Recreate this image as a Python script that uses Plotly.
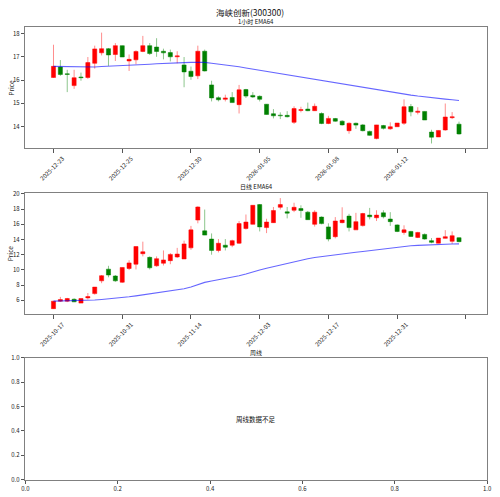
import plotly.graph_objects as go

# ---------------- data ----------------
title_main = "海峡创新(300300)"
title_h = "1小时 EMA64"
title_d = "日线 EMA64"
title_w = "周线"
weekly_msg = "周线数据不足"

h_ticks = [0, 10, 20, 30, 40, 50, 60]
h_ticktext = ["2025-12-23", "2025-12-25", "2025-12-30", "2026-01-05", "2026-01-08", "2026-01-12", ""]
d_ticks = [0, 10, 20, 30, 40, 50, 60]
d_ticktext = ["2025-10-17", "2025-10-31", "2025-11-14", "2025-12-03", "2025-12-17", "2025-12-31", ""]

h_open = [16.11, 16.56, 16.27, 15.76, 16.13, 16.11, 16.72, 17.17, 17.35, 17.10,
          17.48, 16.82, 16.87, 17.23, 17.48, 17.42, 17.24, 17.18, 17.00, 16.65,
          16.38, 16.18, 17.24, 15.79, 15.24, 15.17, 15.25, 14.94, 15.59, 15.34,
          15.30, 14.96, 14.55, 14.49, 14.48, 14.18, 14.69, 14.75, 14.68, 14.56,
          14.13, 14.34, 14.23, 13.82, 14.14, 14.07, 13.79, 13.48, 14.04, 13.90,
          13.99, 14.14, 14.86, 14.61, 14.65, 13.76, 13.55, 13.85, 14.38, 14.10]
h_close = [16.59, 16.24, 16.24, 16.10, 16.10, 16.75, 17.34, 17.35, 17.08, 17.48,
           16.99, 16.89, 17.23, 17.48, 17.14, 17.23, 17.17, 17.00, 17.04, 16.35,
           16.15, 17.24, 16.39, 15.23, 15.15, 15.23, 15.03, 15.58, 15.31, 15.27,
           15.17, 14.52, 14.46, 14.46, 14.42, 14.77, 14.73, 14.68, 14.87, 14.13,
           14.35, 14.23, 14.07, 14.14, 14.06, 13.82, 13.62, 14.07, 13.92, 13.99,
           14.15, 14.85, 14.63, 14.66, 14.28, 13.54, 13.83, 14.41, 14.42, 13.68]
h_high = [17.52, 16.86, 16.44, 16.44, 16.32, 16.99, 17.48, 18.04, 17.38, 17.59,
          17.48, 17.10, 17.28, 17.90, 17.59, 17.80, 17.35, 17.31, 17.24, 16.99,
          16.58, 17.48, 17.31, 15.97, 15.30, 15.37, 15.48, 15.79, 15.62, 15.48,
          15.34, 14.96, 14.75, 14.61, 14.66, 14.87, 14.85, 15.03, 14.99, 14.61,
          14.46, 14.37, 14.27, 14.18, 14.17, 14.11, 13.82, 14.07, 14.07, 14.18,
          14.15, 15.17, 14.97, 14.83, 14.65, 13.86, 13.83, 14.99, 14.62, 14.21]
h_low = [16.10, 16.18, 15.48, 15.62, 15.97, 16.05, 16.49, 17.06, 16.61, 16.82,
         16.99, 16.39, 16.68, 17.20, 17.08, 17.00, 16.89, 16.80, 16.72, 15.69,
         16.01, 16.04, 16.37, 15.08, 15.08, 15.08, 15.03, 14.56, 15.23, 15.23,
         15.08, 14.52, 14.35, 14.32, 14.39, 14.11, 14.61, 14.66, 14.68, 14.10,
         14.10, 14.21, 14.04, 13.69, 13.90, 13.79, 13.61, 13.45, 13.87, 13.86,
         13.99, 14.07, 14.44, 14.52, 14.28, 13.27, 13.55, 13.82, 14.32, 13.65]
h_ema = [16.59, 16.58, 16.57, 16.56, 16.55, 16.55, 16.56, 16.58, 16.59, 16.61,
         16.62, 16.63, 16.64, 16.66, 16.68, 16.70, 16.72, 16.73, 16.74, 16.75,
         16.76, 16.77, 16.76, 16.72, 16.69, 16.65, 16.61, 16.57, 16.52, 16.47,
         16.42, 16.37, 16.32, 16.27, 16.22, 16.17, 16.12, 16.07, 16.02, 15.97,
         15.92, 15.87, 15.82, 15.77, 15.72, 15.67, 15.62, 15.57, 15.52, 15.47,
         15.43, 15.39, 15.35, 15.31, 15.27, 15.24, 15.21, 15.18, 15.15, 15.12]

d_open = [4.89, 5.88, 5.88, 6.13, 5.62, 6.31, 6.87, 8.55, 10.09, 9.19,
          8.37, 10.18, 10.74, 12.12, 11.64, 10.53, 10.87, 11.21, 11.69, 11.43,
          12.89, 16.55, 15.13, 14.05, 12.55, 13.24, 13.24, 13.50, 15.43, 15.99,
          18.58, 15.56, 16.21, 18.23, 17.63, 17.84, 18.06, 17.59, 15.99, 16.94,
          15.65, 14.36, 16.21, 17.07, 15.26, 15.82, 17.20, 16.85, 17.50, 16.68,
          15.91, 14.92, 15.05, 14.27, 14.66, 13.84, 13.50, 14.14, 13.75, 14.23]
d_close = [5.88, 6.09, 6.22, 5.79, 6.22, 6.48, 7.73, 9.23, 9.32, 8.55,
           10.31, 10.91, 13.07, 12.38, 10.27, 11.47, 11.30, 12.03, 12.08, 13.41,
           15.26, 18.27, 14.57, 12.55, 13.50, 12.98, 13.84, 16.08, 16.29, 18.49,
           15.65, 16.29, 17.80, 18.58, 17.46, 18.23, 17.80, 16.60, 17.59, 16.08,
           14.05, 16.42, 16.55, 15.56, 16.34, 17.41, 16.98, 17.20, 16.98, 16.34,
           15.05, 15.26, 14.40, 14.92, 14.05, 13.62, 14.18, 14.36, 14.49, 13.71]
d_high = [5.88, 6.44, 6.31, 6.26, 6.22, 6.95, 7.73, 9.32, 10.53, 9.32,
          10.31, 11.26, 13.07, 13.71, 11.77, 11.77, 12.55, 12.20, 12.89, 13.84,
          15.78, 18.36, 17.93, 14.79, 14.05, 14.05, 13.97, 16.42, 17.28, 18.49,
          18.66, 16.72, 18.27, 19.44, 18.27, 18.83, 18.49, 17.75, 17.84, 17.03,
          16.12, 16.94, 18.23, 17.37, 17.50, 17.50, 18.15, 17.84, 17.84, 17.59,
          15.99, 15.86, 15.13, 15.00, 14.79, 14.18, 14.18, 15.22, 15.05, 14.27]
d_low = [4.89, 5.79, 5.75, 5.75, 5.62, 6.09, 6.74, 8.24, 9.02, 8.42,
         8.29, 9.97, 10.05, 11.77, 10.05, 10.40, 10.57, 10.74, 11.56, 11.43,
         12.63, 16.12, 14.57, 11.99, 12.29, 12.55, 12.98, 13.41, 15.30, 15.99,
         15.05, 14.83, 16.21, 17.93, 16.77, 17.59, 16.85, 16.60, 15.69, 15.99,
         13.75, 14.14, 16.12, 15.05, 15.26, 15.69, 16.64, 16.42, 16.77, 15.78,
         14.96, 14.62, 14.36, 14.18, 13.97, 13.50, 13.50, 14.14, 13.41, 13.62]
d_ema = [5.88, 5.89, 5.90, 5.92, 5.94, 5.98, 6.03, 6.10, 6.17, 6.25,
         6.34, 6.45, 6.57, 6.70, 6.83, 6.96, 7.09, 7.22, 7.36, 7.52,
         7.75, 8.10, 8.35, 8.52, 8.68, 8.82, 8.97, 9.22, 9.45, 9.75,
         9.98, 10.20, 10.42, 10.65, 10.86, 11.05, 11.25, 11.45, 11.62, 11.75,
         11.85, 11.96, 12.08, 12.20, 12.31, 12.42, 12.53, 12.65, 12.78, 12.90,
         13.02, 13.10, 13.17, 13.22, 13.27, 13.31, 13.34, 13.37, 13.39, 13.41]

w_ticks = [0.0, 0.2, 0.4, 0.6, 0.8, 1.0]

# ---------------- layout helpers ----------------
W, H = 500, 497
FONT = "Noto Sans CJK SC, Noto Sans, DejaVu Sans, sans-serif"
UP, DOWN = "#ff0000", "#008000"
UP_W, DOWN_W = "rgba(255,0,0,0.45)", "rgba(0,128,0,0.45)"

fig = go.Figure()


def add_candles(xa, ya, o, h, l, c, ema):
    idx = list(range(len(o)))
    up = [i for i in idx if c[i] >= o[i]]
    dn = [i for i in idx if c[i] < o[i]]
    for sel, wc in ((up, UP_W), (dn, DOWN_W)):
        xs, ys = [], []
        for i in sel:
            xs += [i, i, None]
            ys += [l[i], h[i], None]
        fig.add_trace(go.Scatter(x=xs, y=ys, mode="lines", line=dict(color=wc, width=1),
                                 xaxis=xa, yaxis=ya, hoverinfo="skip", showlegend=False))
    for sel, bc in ((up, UP), (dn, DOWN)):
        fig.add_trace(go.Bar(x=sel, base=[min(o[i], c[i]) for i in sel],
                             y=[abs(c[i] - o[i]) for i in sel], width=0.6,
                             marker=dict(color=bc, line=dict(color=bc, width=0.5)),
                             xaxis=xa, yaxis=ya, showlegend=False))
    fig.add_trace(go.Scatter(x=idx, y=ema, mode="lines",
                             line=dict(color="rgba(0,0,255,0.6)", width=1.1),
                             xaxis=xa, yaxis=ya, showlegend=False))


add_candles("x", "y", h_open, h_high, h_low, h_close, h_ema)
add_candles("x2", "y2", d_open, d_high, d_low, d_close, d_ema)
fig.add_trace(go.Scatter(x=[None], y=[None], xaxis="x3", yaxis="y3", showlegend=False))

xd = [21.7 / W, 491.7 / W]


def ydom(top, bottom):
    return [1 - bottom / H, 1 - top / H]


axis_common = dict(showline=True, mirror=True, linecolor="#808080", linewidth=1,
                   ticks="outside", ticklen=3.5, tickwidth=0.8, tickcolor="#555",
                   showgrid=False, zeroline=False,
                   tickfont=dict(size=6, family=FONT, color="#222"))

fig.update_layout(
    width=W, height=H, margin=dict(l=0, r=0, t=0, b=0),
    paper_bgcolor="white", plot_bgcolor="white", barmode="overlay",
    font=dict(family=FONT),
    xaxis=dict(domain=xd, anchor="y", range=[-4.1, 63.05], tickmode="array",
               tickvals=h_ticks, ticktext=h_ticktext, tickangle=-45, ticklabelshift=9,
               **axis_common),
    yaxis=dict(domain=ydom(22.7, 146), anchor="x", range=[13.06, 18.27],
               tickmode="array", tickvals=[14, 15, 16, 17, 18], **axis_common),
    xaxis2=dict(domain=xd, anchor="y2", range=[-4.1, 63.05], tickmode="array",
                tickvals=d_ticks, ticktext=d_ticktext, tickangle=-45, ticklabelshift=9,
                **axis_common),
    yaxis2=dict(domain=ydom(191, 315), anchor="x2", range=[4.15, 20.17],
                tickmode="array", tickvals=[6, 8, 10, 12, 14, 16, 18, 20], **axis_common),
    xaxis3=dict(domain=[21.7 / W, 492 / W], anchor="y3", range=[0, 1], tickmode="array",
                tickvals=w_ticks, tickformat=".1f", **axis_common),
    yaxis3=dict(domain=ydom(359.3, 483.3), anchor="x3", range=[0, 1], tickmode="array",
                tickvals=w_ticks, tickformat=".1f", **axis_common),
)

ann = []
ann.append(dict(text=title_main, x=0.5, y=1 - 7.5 / H, xref="paper", yref="paper",
                showarrow=False, font=dict(size=8.5, family=FONT, color="#111"),
                xanchor="center", yanchor="middle"))
for t, ypix in ((title_h, 16.5), (title_d, 185), (title_w, 354)):
    ann.append(dict(text=t, x=(xd[0] + xd[1]) / 2, y=1 - ypix / H, xref="paper", yref="paper",
                    showarrow=False, font=dict(size=6, family=FONT, color="#111"),
                    xanchor="center", yanchor="middle"))
for top, bottom in ((22.7, 146), (191, 315)):
    ann.append(dict(text="Price", x=7 / W, y=1 - (top + bottom) / 2 / H, xref="paper",
                    yref="paper", showarrow=False, textangle=-90,
                    font=dict(size=6.5, family=FONT, color="#222"),
                    xanchor="center", yanchor="middle"))
ann.append(dict(text=weekly_msg, x=0.5, y=0.5, xref="x3", yref="y3", showarrow=False,
                font=dict(size=6.5, family=FONT, color="#111"),
                xanchor="center", yanchor="middle"))
fig.update_layout(annotations=ann)

fig.write_html("out.html", config={"displayModeBar": False},
               post_script="document.body.style.margin='0';document.body.style.overflow='hidden';")
